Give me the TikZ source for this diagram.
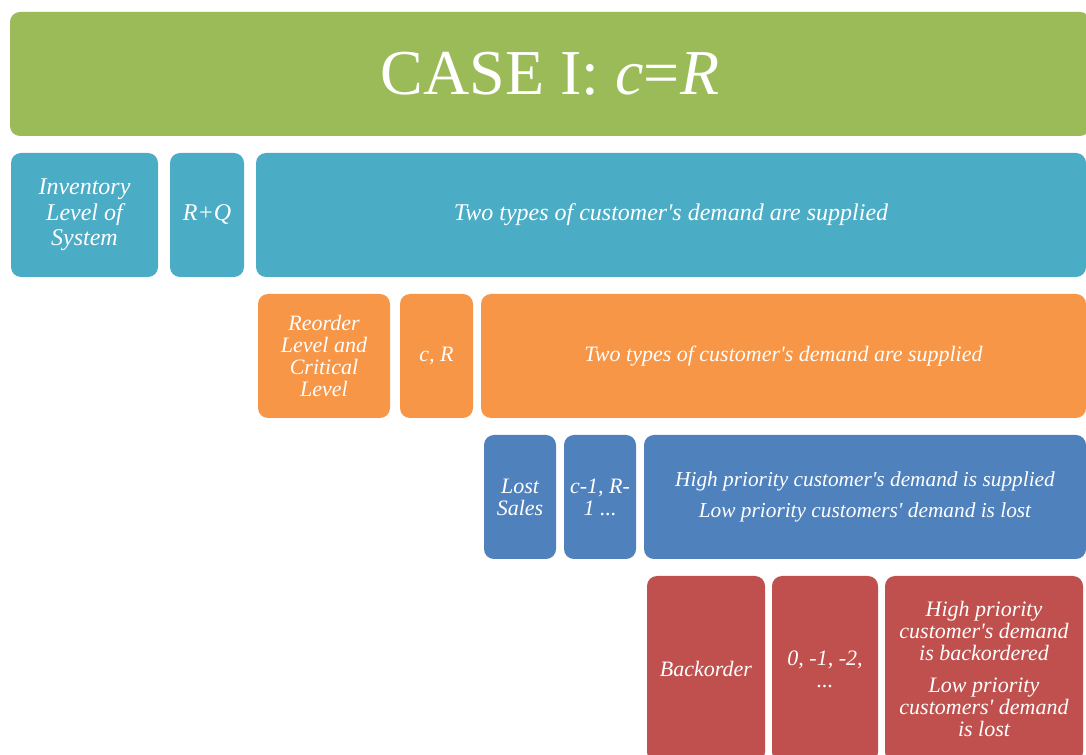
\documentclass[tikz,border=0pt]{standalone}
\usepackage{fontspec}
\setmainfont{Liberation Serif}
\newcommand{\straightq}{\textquotesingle}
\begin{document}
\begin{tikzpicture}[x=0.75pt,y=-0.75pt]
    \definecolor{title_color}{RGB}{155,187,89}
    \definecolor{system_color}{RGB}{75,172,198}
    \definecolor{reorder_color}{RGB}{247,150,70}
    \definecolor{lost_color}{RGB}{79,129,189}
    \definecolor{back_color}{RGB}{192,80,77}
    \tikzstyle{every node} = [rounded corners=7.5pt, inner sep=0pt, text=white, align=center, font=\itshape\fontsize{16.5}{16.5}\selectfont]
    \tikzstyle{title_box} = [fill=title_color, font=\fontsize{48}{48}\selectfont, minimum width=810pt, minimum height=93pt]
    \tikzstyle{system_box} = [fill=system_color, minimum height=93pt]
    \tikzstyle{reorder_box} = [fill=reorder_color, minimum height=93pt]
    \tikzstyle{lost_box} = [fill=lost_color, minimum height=93pt]
    \tikzstyle{back_box} = [fill=back_color, minimum height=139.5pt]
    \path[use as bounding box, fill=white] (0,0) rectangle (1086,755);
    \clip (0,0) rectangle (1086,755);
    % title
    \node[title_box] (title) at (550,74) {CASE I: {\itshape c}={\itshape R}};
    % inventory level of system
    \node[system_box, minimum width=110.25pt, font=\itshape\fontsize{18}{19}\selectfont] (sys) at (84.5,215) {Inventory\\Level of\\System};
    \node[system_box, minimum width=55.5pt, font=\itshape\fontsize{18}{19}\selectfont] (sysval) at (207,215) {R+Q};
    \node[system_box, minimum width=622.5pt, font=\itshape\fontsize{18}{19}\selectfont] (systxt) at (671,215) {Two types of customer\straightq s demand are supplied};
    % reorder level and critical level
    \node[reorder_box, minimum width=99pt] (reo) at (324,356) {Reorder\\Level and\\Critical\\Level};
    \node[reorder_box, minimum width=54.75pt] (reoval) at (436.5,356) {c, R};
    \node[reorder_box, minimum width=453.75pt] (reotxt) at (783.5,356) {Two types of customer\straightq s demand are supplied};
    % lost sales
    \node[lost_box, minimum width=54pt] (lost) at (520,497) {Lost\\Sales};
    \node[lost_box, minimum width=54pt] (lostval) at (600,497) {c-1, R-\\1 ...};
    \node[lost_box, minimum width=331.5pt, font=\itshape\fontsize{16}{16}\selectfont] (losttxt) at (865,497) {High priority customer\straightq s demand is supplied\\[7.5pt]Low priority customers\straightq{} demand is lost};
    % backorder
    \node[back_box, minimum width=88.5pt] (back) at (706,669) {Backorder};
    \node[back_box, minimum width=79.5pt] (backval) at (825,669) {0, -1, -2,\\...};
    \node[back_box, minimum width=148.5pt] (backtxt) at (984,669) {High priority\\customer\straightq s demand\\is backordered\\[7pt]Low priority\\customers\straightq{} demand\\is lost};
\end{tikzpicture}
\end{document}
